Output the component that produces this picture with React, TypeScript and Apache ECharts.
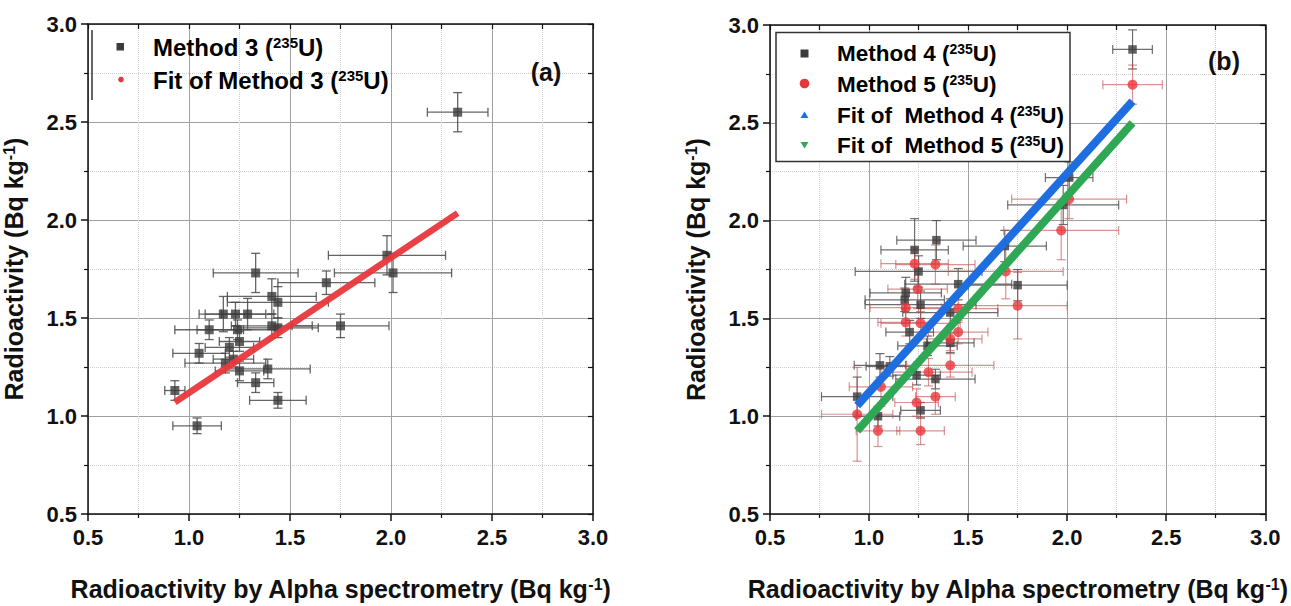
import React, { useEffect, useRef } from "react";
import * as echarts from "echarts";

// ---------- Panel (a): Method 3 ----------
const m3X = [1.98, 2.01, 1.33, 1.68, 1.41, 1.44, 1.17, 1.23, 1.29, 1.41, 1.44, 1.10, 1.24, 1.75, 1.25, 1.20, 1.05, 1.22, 1.18, 1.25, 1.39, 1.33, 1.44, 0.93, 1.04, 2.33];
const m3Y = [1.82, 1.73, 1.73, 1.68, 1.61, 1.58, 1.52, 1.52, 1.52, 1.46, 1.45, 1.44, 1.44, 1.46, 1.38, 1.35, 1.32, 1.29, 1.27, 1.23, 1.24, 1.17, 1.08, 1.13, 0.95, 2.55];
const m3Xe = [0.29, 0.29, 0.21, 0.24, 0.22, 0.25, 0.12, 0.15, 0.13, 0.20, 0.20, 0.17, 0.20, 0.24, 0.10, 0.12, 0.13, 0.10, 0.20, 0.12, 0.21, 0.09, 0.14, 0.05, 0.12, 0.15];
const m3Ye = [0.10, 0.10, 0.10, 0.06, 0.09, 0.08, 0.09, 0.06, 0.08, 0.06, 0.05, 0.05, 0.05, 0.06, 0.05, 0.05, 0.05, 0.04, 0.05, 0.05, 0.05, 0.05, 0.04, 0.05, 0.04, 0.10];
const fitAX = [0.93, 2.33];
const fitAY = [1.07, 2.035];

// ---------- Panel (b): Method 4 & 5 ----------
const m4X = [1.34, 1.23, 1.25, 1.45, 1.185, 1.18, 1.26, 1.685, 1.75, 1.41, 1.205, 1.295, 1.41, 1.055, 1.105, 1.24, 1.335, 0.94, 1.045, 1.26, 2.01, 1.98, 2.33];
const m4Y = [1.90, 1.85, 1.74, 1.675, 1.63, 1.595, 1.57, 1.87, 1.67, 1.53, 1.43, 1.36, 1.375, 1.26, 1.255, 1.21, 1.19, 1.10, 1.00, 1.03, 2.22, 2.08, 2.875];
const m4Xe = [0.20, 0.17, 0.32, 0.27, 0.18, 0.20, 0.28, 0.21, 0.25, 0.24, 0.12, 0.15, 0.12, 0.13, 0.12, 0.12, 0.20, 0.18, 0.11, 0.10, 0.12, 0.28, 0.10];
const m4Ye = [0.10, 0.16, 0.08, 0.08, 0.08, 0.06, 0.07, 0.08, 0.08, 0.07, 0.06, 0.05, 0.05, 0.06, 0.05, 0.05, 0.05, 0.10, 0.05, 0.04, 0.08, 0.10, 0.10];

const m5X = [1.23, 1.335, 1.69, 1.245, 1.75, 1.185, 1.45, 1.185, 1.26, 1.45, 1.41, 1.41, 1.30, 1.06, 1.335, 1.24, 0.94, 1.045, 1.26, 2.33, 2.01, 1.97];
const m5Y = [1.78, 1.775, 1.74, 1.65, 1.565, 1.555, 1.55, 1.48, 1.475, 1.43, 1.395, 1.26, 1.225, 1.15, 1.10, 1.07, 1.01, 0.925, 0.925, 2.695, 2.11, 1.95];
const m5Xe = [0.17, 0.20, 0.29, 0.15, 0.25, 0.18, 0.20, 0.14, 0.20, 0.15, 0.16, 0.22, 0.22, 0.16, 0.10, 0.11, 0.18, 0.11, 0.12, 0.15, 0.29, 0.29];
const m5Ye = [0.08, 0.10, 0.14, 0.10, 0.17, 0.08, 0.07, 0.07, 0.06, 0.06, 0.06, 0.06, 0.07, 0.10, 0.09, 0.07, 0.24, 0.08, 0.07, 0.10, 0.10, 0.15];

const fit4X = [0.94, 2.33];
const fit4Y = [1.055, 2.61];
const fit5X = [0.94, 2.33];
const fit5Y = [0.925, 2.50];

const tickLabels = ["0.5", "1.0", "1.5", "2.0", "2.5", "3.0"];

const FONT = "'Liberation Sans', Arial, Helvetica, sans-serif";
const C_SQ = "#3b3b3b";
const C_RED = "#e8373b";
const C_BLUE = "#1f6ee0";
const C_GREEN = "#2fa856";

function zip4(a: number[], b: number[], c: number[], d: number[]) {
  return a.map((v, i) => [v, b[i], c[i], d[i]]);
}
function zip2(a: number[], b: number[]) {
  return a.map((v, i) => [v, b[i]]);
}

function errSeries(xi: number, yi: number, data: number[][], color: string, width: number, opacity: number) {
  return {
    type: "custom",
    xAxisIndex: xi,
    yAxisIndex: yi,
    data,
    z: 1,
    silent: true,
    clip: true,
    encode: { x: 0, y: 1 },
    renderItem: (_params: any, api: any) => {
      const x = api.value(0), y = api.value(1), xe = api.value(2), ye = api.value(3);
      const l = api.coord([x - xe, y]);
      const r = api.coord([x + xe, y]);
      const t = api.coord([x, y + ye]);
      const b = api.coord([x, y - ye]);
      const c = 4.5;
      const st = { stroke: color, lineWidth: width, opacity };
      return {
        type: "group",
        children: [
          { type: "line", shape: { x1: l[0], y1: l[1], x2: r[0], y2: r[1] }, style: st },
          { type: "line", shape: { x1: l[0], y1: l[1] - c, x2: l[0], y2: l[1] + c }, style: st },
          { type: "line", shape: { x1: r[0], y1: r[1] - c, x2: r[0], y2: r[1] + c }, style: st },
          { type: "line", shape: { x1: t[0], y1: t[1], x2: b[0], y2: b[1] }, style: st },
          { type: "line", shape: { x1: t[0] - c, y1: t[1], x2: t[0] + c, y2: t[1] }, style: st },
          { type: "line", shape: { x1: b[0] - c, y1: b[1], x2: b[0] + c, y2: b[1] }, style: st },
        ],
      };
    },
  };
}

const supRich = (size: number) => ({
  t: { fontSize: size, fontWeight: "bold", fontFamily: FONT, color: "#111" },
  s: { fontSize: Math.round(size * 0.62), fontWeight: "bold", fontFamily: FONT, color: "#111", verticalAlign: "top" },
});

const axisFmt = (v: number) => {
  const idx = Math.round((v - 0.5) / 0.5);
  return tickLabels[idx] ?? "";
};

function mainX(gi: number) {
  return {
    type: "value",
    gridIndex: gi,
    min: 0.5,
    max: 3.0,
    interval: 0.5,
    position: "bottom",
    name: "{t|Radioactivity by Alpha spectrometry (Bq kg}{s|-1}{t|)}",
    nameLocation: "middle",
    nameGap: 62,
    nameTextStyle: { rich: supRich(25) },
    axisLine: { show: true, onZero: false, lineStyle: { color: "#111", width: 1.5 } },
    axisTick: { show: true, inside: false, length: 7, lineStyle: { color: "#111", width: 1.5 } },
    minorTick: { show: true, splitNumber: 2, length: 4, lineStyle: { color: "#111", width: 1.2 } },
    axisLabel: { formatter: axisFmt, fontSize: 22, fontWeight: "bold", fontFamily: FONT, color: "#111", margin: 12 },
    splitLine: { show: true, lineStyle: { color: "#a0a0a0", width: 1 } },
    minorSplitLine: { show: true, lineStyle: { color: "#cfcfcf", width: 1, type: "dotted" } },
  };
}
function topX(gi: number) {
  return {
    type: "value",
    gridIndex: gi,
    min: 0.5,
    max: 3.0,
    interval: 0.5,
    position: "top",
    axisLine: { show: true, onZero: false, lineStyle: { color: "#111", width: 1.5 } },
    axisTick: { show: true, inside: true, length: 5, lineStyle: { color: "#111", width: 1.2 } },
    minorTick: { show: true, splitNumber: 2, length: 5, lineStyle: { color: "#111", width: 1.2 } },
    axisLabel: { show: false },
    splitLine: { show: false },
  };
}
function mainY(gi: number) {
  return {
    type: "value",
    gridIndex: gi,
    min: 0.5,
    max: 3.0,
    interval: 0.5,
    position: "left",
    name: "{t|Radioactivity (Bq kg}{s|-1}{t|)}",
    nameLocation: "middle",
    nameGap: 62,
    nameTextStyle: { rich: supRich(25) },
    axisLine: { show: true, onZero: false, lineStyle: { color: "#111", width: 1.5 } },
    axisTick: { show: true, inside: false, length: 7, lineStyle: { color: "#111", width: 1.5 } },
    minorTick: { show: true, splitNumber: 2, length: 4, lineStyle: { color: "#111", width: 1.2 } },
    axisLabel: { formatter: axisFmt, fontSize: 22, fontWeight: "bold", fontFamily: FONT, color: "#111", margin: 11 },
    splitLine: { show: true, lineStyle: { color: "#a0a0a0", width: 1 } },
    minorSplitLine: { show: true, lineStyle: { color: "#cfcfcf", width: 1, type: "dotted" } },
  };
}
function rightY(gi: number) {
  return {
    type: "value",
    gridIndex: gi,
    min: 0.5,
    max: 3.0,
    interval: 0.5,
    position: "right",
    axisLine: { show: true, onZero: false, lineStyle: { color: "#111", width: 1.5 } },
    axisTick: { show: true, inside: true, length: 5, lineStyle: { color: "#111", width: 1.2 } },
    minorTick: { show: true, splitNumber: 2, length: 5, lineStyle: { color: "#111", width: 1.2 } },
    axisLabel: { show: false },
    splitLine: { show: false },
  };
}

function legendText(x: number, y: number, text: string, size: number) {
  return {
    type: "text",
    x,
    y,
    z: 100,
    style: { text, rich: supRich(size), verticalAlign: "middle", align: "left" },
  };
}

export default function App() {
  const ref = useRef<HTMLDivElement>(null);
  useEffect(() => {
    if (!ref.current) return;
    const chart = echarts.init(ref.current, undefined, { renderer: "svg" });
    const option: any = {
      animation: false,
      backgroundColor: "#ffffff",
      grid: [
        { left: 87, top: 24, width: 506, height: 501, containLabel: false },
        { left: 770, top: 25, width: 507, height: 500, containLabel: false },
      ],
      xAxis: [mainX(0), topX(0), mainX(1), topX(1)],
      yAxis: [mainY(0), rightY(0), mainY(1), rightY(1)],
      series: [
        // panel a
        errSeries(0, 0, zip4(m3X, m3Y, m3Xe, m3Ye), "#4a4a4a", 1.3, 0.85),
        {
          type: "scatter",
          name: "Method 3",
          xAxisIndex: 0,
          yAxisIndex: 0,
          symbol: "rect",
          symbolSize: 9,
          itemStyle: { color: C_SQ },
          data: zip2(m3X, m3Y),
          z: 2,
        },
        {
          type: "line",
          name: "Fit of Method 3",
          xAxisIndex: 0,
          yAxisIndex: 0,
          data: zip2(fitAX, fitAY),
          showSymbol: false,
          symbol: "none",
          lineStyle: { color: C_RED, width: 6.5, opacity: 0.95 },
          z: 3,
        },
        // panel b
        errSeries(2, 2, zip4(m4X, m4Y, m4Xe, m4Ye), "#4a4a4a", 1.2, 0.8),
        errSeries(2, 2, zip4(m5X, m5Y, m5Xe, m5Ye), "#c24a4a", 1.2, 0.6),
        {
          type: "scatter",
          name: "Method 4",
          xAxisIndex: 2,
          yAxisIndex: 2,
          symbol: "rect",
          symbolSize: 8.5,
          itemStyle: { color: C_SQ },
          data: zip2(m4X, m4Y),
          z: 2,
        },
        {
          type: "scatter",
          name: "Method 5",
          xAxisIndex: 2,
          yAxisIndex: 2,
          symbol: "circle",
          symbolSize: 10,
          itemStyle: { color: C_RED },
          data: zip2(m5X, m5Y),
          z: 2,
        },
        {
          type: "line",
          name: "Fit of Method 4",
          xAxisIndex: 2,
          yAxisIndex: 2,
          data: zip2(fit4X, fit4Y),
          showSymbol: false,
          symbol: "none",
          lineStyle: { color: C_BLUE, width: 8 },
          z: 3,
        },
        {
          type: "line",
          name: "Fit of Method 5",
          xAxisIndex: 2,
          yAxisIndex: 2,
          data: zip2(fit5X, fit5Y),
          showSymbol: false,
          symbol: "none",
          lineStyle: { color: C_GREEN, width: 8 },
          z: 3,
        },
      ],
      graphic: [
        // legend a
        { type: "line", z: 100, shape: { x1: 92, y1: 30, x2: 92, y2: 100 }, style: { stroke: "#333", lineWidth: 1.5 } },
        { type: "rect", z: 100, shape: { x: 116.5, y: 43, width: 7.5, height: 7.5 }, style: { fill: C_SQ } },
        { type: "circle", z: 100, shape: { cx: 121, cy: 79.5, r: 2.8 }, style: { fill: C_RED } },
        legendText(153, 47, "{t|Method 3 (}{s|235}{t|U)}", 24),
        legendText(153, 80, "{t|Fit of Method 3 (}{s|235}{t|U)}", 24),
        {
          type: "text",
          x: 546,
          y: 72,
          z: 100,
          style: { text: "(a)", fontSize: 25, fontWeight: "bold", fontFamily: FONT, fill: "#111", align: "center", verticalAlign: "middle" },
        },
        // legend b
        { type: "rect", z: 99, shape: { x: 776, y: 32.5, width: 294, height: 129 }, style: { fill: "#ffffff", stroke: "#333", lineWidth: 1.5 } },
        { type: "rect", z: 100, shape: { x: 800.5, y: 49.5, width: 8, height: 8 }, style: { fill: C_SQ } },
        { type: "circle", z: 100, shape: { cx: 804.5, cy: 83.5, r: 4.8 }, style: { fill: C_RED } },
        { type: "polygon", z: 100, shape: { points: [[804.5, 111.5], [800.5, 118], [808.5, 118]] }, style: { fill: C_BLUE } },
        { type: "polygon", z: 100, shape: { points: [[800.5, 142], [808.5, 142], [804.5, 148.5]] }, style: { fill: C_GREEN } },
        legendText(837, 53.5, "{t|Method 4 (}{s|235}{t|U)}", 22.5),
        legendText(837, 84, "{t|Method 5 (}{s|235}{t|U)}", 22.5),
        legendText(837, 115, "{t|Fit of  Method 4 (}{s|235}{t|U)}", 22.5),
        legendText(837, 145, "{t|Fit of  Method 5 (}{s|235}{t|U)}", 22.5),
        {
          type: "text",
          x: 1224,
          y: 61,
          z: 100,
          style: { text: "(b)", fontSize: 25, fontWeight: "bold", fontFamily: FONT, fill: "#111", align: "center", verticalAlign: "middle" },
        },
      ],
    };
    chart.setOption(option);
    return () => chart.dispose();
  }, []);
  return (
    <div
      ref={ref}
      style={{ position: "fixed", left: 0, top: 0, width: 1291, height: 606, background: "#fff" }}
    />
  );
}
